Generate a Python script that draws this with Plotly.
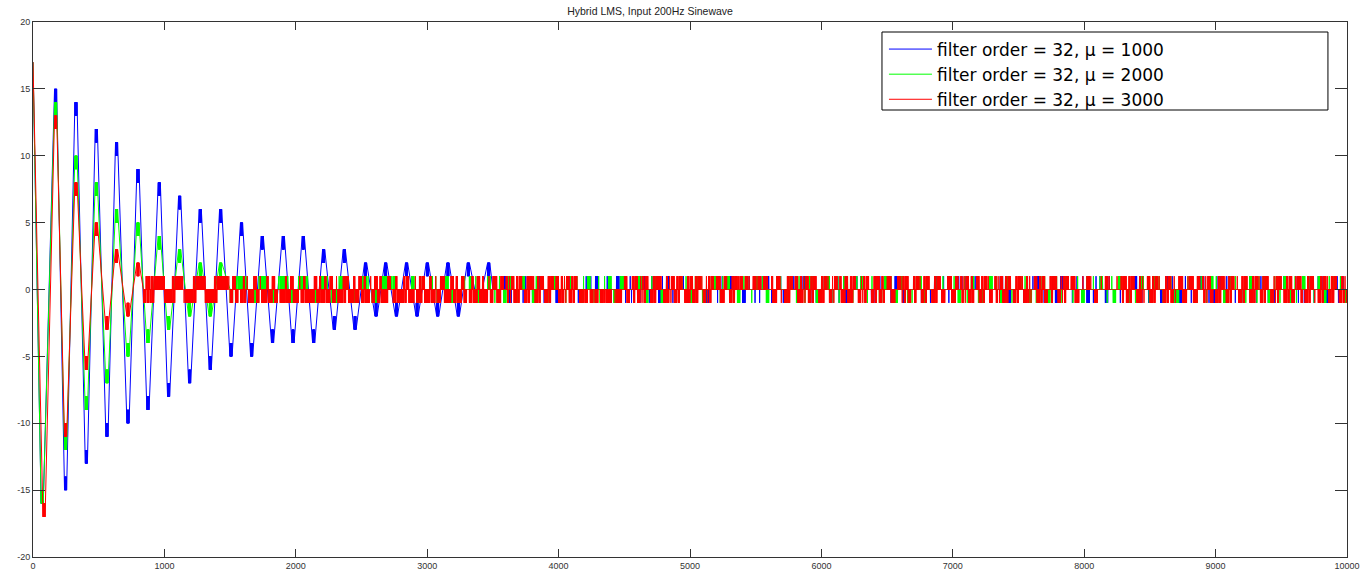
import plotly.graph_objects as go

X_MAX = 10000

# ---- transient part: extremes of each half cycle (sample index, value) ----
blue_ext_x = [0, 70, 172, 248, 327, 406, 482, 563, 636, 723,
              799, 875, 961, 1032, 1116, 1192, 1273, 1349, 1428, 1507,
              1587, 1664, 1745, 1823, 1905, 1979, 2057, 2136, 2212, 2293,
              2369, 2451, 2531, 2611, 2684, 2766, 2843, 2923, 3001, 3080,
              3158, 3237, 3313, 3390, 3468]
blue_ext_y = [17, -16, 15, -15, 14, -13, 12, -11, 11, -10,
              9, -9, 8, -8, 7, -7, 6, -6, 6, -5,
              5, -5, 4, -4, 4, -4, 4, -4, 3, -3,
              3, -3, 2, -2, 2, -2, 2, -2, 2, -2,
              2, -2, 2, -1, 2]

green_ext_x = [0, 70, 172, 248, 327, 406, 482, 563, 636, 723,
               799, 875, 961, 1032, 1116, 1192, 1273, 1349, 1428]
green_ext_y = [17, -16, 14, -12, 10, -9, 8, -7, 6, -5,
               5, -4, 4, -3, 3, -2, 2, -2, 2]

red_ext_x = [0, 84, 172, 248, 327, 406, 482, 563, 636, 723, 799]
red_ext_y = [17, -17, 13, -11, 8, -6, 5, -3, 3, -2, 2]

# ---- steady-state part: residual error toggling around zero ----
# one character per block of 20 samples
blue_noise_start = 3500
blue_noise = (
    "^0v0u0d^0x 0v^00d0u^v 0x0^d0v0u0 0^vd0^0x0u 0v0^d00u^0 v0x^0d0u0v "
    "^00d^0u0v0 x0^0d0v^u0 0d0^0v0x00 u^0v0d0^0x 0v^0u0d00^ v0x0^0d0u0 "
    "^v0d0^0u0v 0x0^d0v0^0 u0v0d^0x0^ 0v0u^0d0v0 x^0d0^v0u0 0^0v0d0x^0 "
    "u0v^0d0^0v 0x0u0^d0v0 ^0d0v^0u0x 0v0^d0u0^0 v0x0^0d0v^ 0u0d^0v0x0 "
    "^0v0u0d^0v 0x^0d0u0^v 0d0^0x0v0u ^0v0d^0u0x 0^v0d0^0u0 v0x0^d0v0^ "
    "0u0d0^v0x0 ^0v0u^0d0v 0x0^0d0u^0"
)

green_noise_start = 1500
green_noise = (
    "d0^uuu^ddd 0uuu0ddv^u uuvdd0uuu^ ddd0uuu0vd d^uuu0ddv0 uu^0ddv^uu "
    "0^u0d0x^0u 0d^0v0u0x0 ^0u0d0^v0x 0u0^d0v0u0 x0^0d0u^0v 0u0x0d^0u0 "
    "d0^u0v0x0^ 0u0d^0u0v0 x0^0u0d0^u 0v0x0u^0d0 ^0u0d0x0^v 0u0^0d0u0x "
    "d0^0u0v^0u 0x0d0^u0v0 u0^0d0x0u^ 0d0u0v^0x0 ^u0d0^0u0v 0x0^u0d0^0 "
    "u0v0x0^d0u 0^0d0u0x0v ^0u0d^0v0u 0x0u0^0d0^ v0u0x0d^0u 0^0d0u0v0x "
    "u0^0d0x0^u 0d0u^0v0u0 x0^0d0u0^v 0u0x0^d0u0 ^0d0v0u^0x 0u0^0d0u0v "
    "d0x0^u0d0^ 0v0u0x0^d0 u0^0d0v0u0 x^0u0d0^0v 0u0d0x^0u0 ^0v0u0d0x0 "
    "u0^0d0v^0u"
)

red_noise_start = 840
red_noise = (
    "dbbbuuuudddbuuuvdddbuuubdddbuuuu^ "
    "dud0db^ddu d^ddbdud0d dbdudd^dbd ddudb "
    "dbdud^ddbu ddbdudbd^d udbddu0dbd dbudd^dbud dbdxdubddu dbdud0dbdu dbd^d "
    "ubdu0bxudb u0dbu^dbux dbu0udbxud bu0dvd0dvd 0dvdd0vdd0 ud0budxbu0 "
    "dbuu0dbxud bu0dbudbu^ dxbu0ubdu0 dbu^u0u^0u ^u0u^0bdux 0dbu0udbxu "
    "dbu0dbu^dx u0bdudbu0d xbu0dbudb0 ubd0uxbud0 bu^dbu0dbu xd0ubdu0bx "
    "udb0udbu^d 0bxudbu0db u^dbx0udbu d0bu^dxbu0 ubd0^0u^0d 0^0u^00^0b "
    "udbu0dbx0u dbu^0dbudx 0ubd^ubdu0 bxud0dbu^d bu0xdbu0db u^dbu0dxbu "
    "0dbud^ub0d bux0dbu^db u0dbxudb0u"
)

BLOCK = 20
PATTERN = {
    '0': [0] * 20,
    'u': [0, 1] * 10,
    'd': [0, -1] * 10,
    'b': [0, 1] * 5 + [0, -1] * 5,
    '^': [0] * 10 + [1] + [0] * 9,
    'v': [0] * 10 + [-1] + [0] * 9,
    'x': [0] * 5 + [1] + [0] * 9 + [-1] + [0] * 4,
}
HOLD = 16  # samples spent dithering at each extreme

y_tick_vals = [-20, -15, -10, -5, 0, 5, 10, 15, 20]
x_tick_vals = [0, 1000, 2000, 3000, 4000, 5000, 6000, 7000, 8000, 9000, 10000]

names = ["filter order = 32, \u03bc = 1000",
         "filter order = 32, \u03bc = 2000",
         "filter order = 32, \u03bc = 3000"]
colors = ["#0000ff", "#00ff00", "#ff0000"]


def transient(ext_x, ext_y):
    xs, ys = [], []
    for i, (x, v) in enumerate(zip(ext_x, ext_y)):
        if i == 0:
            xs.append(x)
            ys.append(v)
            continue
        step = -1 if v > 0 else 1
        for k in range(-HOLD // 2, HOLD // 2 + 1):
            xs.append(x + k)
            ys.append(v if k % 2 == 0 else v + step)
    return xs, ys


def steady(start, code):
    code = code.replace(" ", "")
    xs, ys = [], []
    for i, ch in enumerate(code):
        for k, v in enumerate(PATTERN[ch]):
            x = start + i * BLOCK + k
            if x > X_MAX:
                return xs, ys
            xs.append(x)
            ys.append(v)
    return xs, ys


series = [
    (blue_ext_x, blue_ext_y, blue_noise_start, blue_noise),
    (green_ext_x, green_ext_y, green_noise_start, green_noise),
    (red_ext_x, red_ext_y, red_noise_start, red_noise),
]

fig = go.Figure()
for (ex, ey, ns, code), name, col in zip(series, names, colors):
    tx, ty = transient(ex, ey)
    sx, sy = steady(ns, code)
    fig.add_trace(go.Scatter(
        x=tx + sx, y=ty + sy, mode="lines", name=name,
        line=dict(color=col, width=1, simplify=False),
        hoverinfo="skip",
    ))

axis_common = dict(
    showgrid=False, zeroline=False, showline=True, linecolor="#333333",
    linewidth=1, mirror="ticks", ticks="inside", tickcolor="#333333",
    tickwidth=1, tickfont=dict(family="Liberation Sans, Arial", size=9, color="#333333"),
)

fig.update_xaxes(range=[0, X_MAX], tickvals=x_tick_vals,
                 ticktext=[str(v) for v in x_tick_vals], ticklen=8, **axis_common)
fig.update_yaxes(range=[-20, 20], tickvals=y_tick_vals,
                 ticktext=[str(v) for v in y_tick_vals], ticklen=12, **axis_common)

fig.update_layout(
    width=1369, height=570,
    margin=dict(l=33, r=22, t=22, b=13, autoexpand=False),
    paper_bgcolor="white", plot_bgcolor="white",
    title=dict(text="Hybrid LMS, Input 200Hz Sinewave", x=0.4696, xref="paper",
               xanchor="center", y=1 - 11 / 570, yref="container", yanchor="middle",
               font=dict(family="Liberation Sans, Arial", size=10.5, color="#222222")),
    showlegend=True,
    legend=dict(x=0.6476, y=0.9822, xanchor="left", yanchor="top",
                bgcolor="rgba(0,0,0,0)", borderwidth=0, itemwidth=43,
                font=dict(family="DejaVu Sans", size=17, color="black")),
    shapes=[dict(type="rect", xref="paper", yref="paper",
                 x0=0.6461, x1=0.9855, y0=0.8355, y1=0.9813,
                 line=dict(color="black", width=1), fillcolor="white",
                 layer="above")],
)

fig.write_html("out.html", config={"displayModeBar": False})
